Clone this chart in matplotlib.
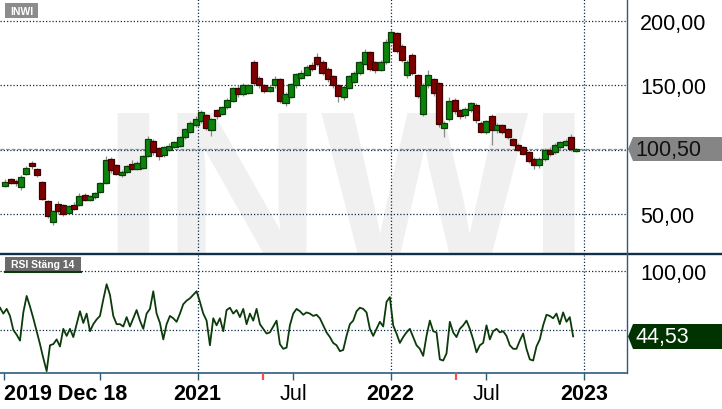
import matplotlib
matplotlib.use("Agg")
import matplotlib.pyplot as plt
import matplotlib.dates as mdates
from matplotlib.patches import Polygon, Rectangle
from matplotlib.lines import Line2D
from matplotlib.transforms import blended_transform_factory
import numpy as np
import pandas as pd

plt.rcParams['font.family'] = ['Liberation Sans', 'DejaVu Sans']

ticker = "INWI"
rsi_title = "RSI Stäng 14"
last_price = 100.50
last_rsi = 44.53

# candles, one every 10 days
candle_start = "2020-01-03"
candle_step_days = 10
opens = [72, 77, 76, 71, 81, 90, 85, 75, 60, 44,
         58, 57, 51, 57, 57, 65, 61, 63, 67, 74,
         93, 88, 80, 83, 89, 85, 86, 95, 107, 101,
         96, 100, 102, 103, 110, 114, 119, 122, 127, 115,
         131, 128, 133, 138, 148, 143, 144, 168, 156, 150,
         146, 150, 155, 136, 141, 150, 156, 158, 166, 172,
         168, 163, 157, 150, 141, 148, 153, 160, 167, 176,
         168, 162, 168, 184, 191, 181, 158, 174, 158, 128,
         150, 155, 152, 117, 124, 139, 131, 127, 131, 135,
         121, 114, 126, 115, 119, 116, 108, 104, 102, 98,
         93, 88, 93, 100, 98, 102, 104, 110, 99]
closes = [75, 74, 74, 79, 86, 87, 80, 62, 48, 52,
          52, 50, 56, 54, 64, 61, 64, 66, 74, 92,
          84, 81, 83, 87, 85, 90, 95, 108, 98, 95,
          102, 103, 106, 110, 116, 121, 124, 129, 117, 124,
          126, 133, 139, 148, 143, 150, 150, 152, 150, 146,
          149, 155, 138, 143, 151, 159, 160, 164, 163, 167,
          160, 155, 150, 142, 149, 157, 160, 168, 176, 163,
          162, 168, 184, 192, 177, 170, 168, 160, 142, 150,
          158, 144, 120, 121, 138, 130, 126, 132, 136, 123,
          114, 122, 115, 119, 114, 110, 104, 100, 97, 91,
          88, 93, 100, 97, 104, 106, 107, 100.5, 100.5]
highs = [77, 78, 77, 80, 87, 91, 86, 76, 61, 53,
         60, 58, 57, 59, 66, 66, 65, 67, 75, 95,
         94, 89, 84, 88, 92, 91, 96, 111, 108, 102,
         103, 105, 107, 111, 117, 122, 126, 131, 128, 125,
         132, 134, 140, 149, 150, 152, 151, 170, 157, 151,
         150, 157, 156, 145, 152, 160, 162, 166, 168, 175,
         170, 164, 158, 151, 150, 158, 161, 169, 178, 177,
         169, 170, 186, 194, 192, 182, 170, 175, 159, 152,
         162, 156, 153, 122, 141, 140, 132, 133, 137, 136,
         122, 123, 128, 121, 120, 117, 109, 105, 103, 99,
         94, 94, 101, 102, 105, 107, 108, 112, 101]
lows = [71, 73, 72, 69, 80, 85, 79, 61, 47, 41,
        50, 48, 50, 53, 56, 60, 60, 62, 66, 73,
        82, 80, 79, 82, 84, 84, 85, 94, 96, 92,
        94, 99, 101, 102, 108, 113, 118, 121, 115, 111,
        124, 127, 132, 137, 141, 142, 143, 150, 148, 144,
        145, 148, 136, 134, 140, 148, 155, 157, 161, 165,
        158, 153, 148, 137, 139, 147, 152, 158, 166, 161,
        160, 161, 167, 183, 175, 168, 156, 158, 140, 126,
        148, 142, 118, 110, 122, 128, 124, 125, 129, 121,
        113, 112, 104, 113, 112, 108, 103, 99, 96, 90,
        85, 86, 91, 95, 97, 100, 103, 99, 98]

# RSI, evenly spaced between these dates
rsi_start = "2019-12-24"
rsi_end = "2022-12-12"
rsi_values = [69, 64, 68, 62, 50, 46, 41, 65, 79, 70,
              60, 49, 38, 26, 15, 37, 38, 42, 36, 51,
              45, 51, 44, 55, 66, 56, 64, 49, 55, 59,
              62, 76, 89, 80, 62, 55, 55, 53, 61, 53,
              60, 67, 58, 51, 64, 68, 83, 64, 56, 42,
              55, 62, 60, 57, 64, 72, 75, 77, 80, 83,
              74, 64, 58, 37, 60, 54, 60, 49, 67, 69,
              64, 67, 61, 68, 55, 64, 58, 68, 55, 51,
              47, 48, 53, 58, 38, 34, 35, 54, 64, 68,
              66, 63, 65, 64, 62, 63, 60, 54, 48, 44,
              39, 37, 32, 33, 45, 55, 58, 66,
              69, 68, 65, 51, 45, 51, 57, 53, 74, 78,
              54, 47, 39, 44, 48, 51, 44, 37, 34, 28,
              45, 58, 49, 48, 25, 24, 30, 57, 48, 44,
              51, 54, 58, 51, 42, 31, 37, 39, 54, 42,
              49, 51, 48, 49, 45, 37, 34, 34, 41, 47,
              34, 25, 24, 36, 42, 54, 63, 62, 60, 64,
              55, 65, 57, 61, 44.53]

dividend_dates = ["2021-05-04", "2022-05-04"]

price_ticks = [50, 100, 150, 200]
rsi_ticks = [50, 100]
year_lines = ["2021-01-01", "2022-01-01", "2023-01-01"]
x_ticks = ["2020-01-01", "2020-07-01", "2021-01-01", "2021-07-01",
           "2022-01-01", "2022-07-01", "2023-01-01"]
x_labels = ["2019 Dec 18", "", "2021", "Jul", "2022", "Jul", "2023"]

W, H = 722, 410
x_left, x_right = "2019-12-24", "2023-03-22"


def fx(px):
    return px / W


def fy(py):
    return 1 - py / H


def dnum(d):
    return mdates.date2num(pd.to_datetime(d))


def fmt(v):
    return f"{v:.2f}".replace('.', ',')


fig = plt.figure(figsize=(W / 100, H / 100), dpi=100)
ax_p = fig.add_axes([0, fy(255), fx(626), fy(0) - fy(255)])
ax_r = fig.add_axes([0, fy(374), fx(626), fy(256) - fy(374)])

grid_col = '#0d2b45'
steel = '#2d5b7b'

for ax in (ax_p, ax_r):
    ax.set_xlim(dnum(x_left), dnum(x_right))
    for s in ax.spines.values():
        s.set_visible(False)
    ax.yaxis.tick_right()
    ax.tick_params(axis='y', length=0, pad=10, labelsize=15.5)
    for d in year_lines:
        ax.axvline(dnum(d), color=grid_col, lw=0.9, dashes=(1, 1.6), zorder=1)

# --- price panel
ax_p.set_ylim(18.8, 217.3)
ax_p.set_yticks(price_ticks)
# the 100,00 label sits under the last-price flag
ax_p.set_yticklabels(['' if abs(v - last_price) < 5 else fmt(v) for v in price_ticks])
ax_p.tick_params(axis='x', length=0, labelbottom=False)
for v in price_ticks:
    ax_p.axhline(v, color=grid_col, lw=0.9, dashes=(1, 1.6), zorder=1)
ax_p.axhline(last_price, color='#8a8a8a', lw=0.9, dashes=(3, 1.5), zorder=1)

wm = ax_p.text(0.163, 11.8, ticker, transform=blended_transform_factory(ax_p.transAxes, ax_p.transData),
               fontsize=158, fontweight='bold', color='#f0f0f0', ha='left', va='baseline', zorder=0)
wm.set_clip_box(ax_p.bbox)

cdates = mdates.date2num(pd.date_range(candle_start, periods=len(opens), freq=f"{candle_step_days}D"))
o = np.array(opens, float)
c = np.array(closes, float)
up = c >= o
ax_p.vlines(cdates, lows, highs, color='#8a8a8a', lw=0.9, zorder=2)
body_h = np.maximum(np.abs(c - o), 0.8)
ax_p.bar(cdates, body_h, width=11.5, bottom=np.minimum(o, c),
         color=np.where(up, '#0a850a', '#800000'),
         edgecolor=np.where(up, '#0b3d0b', '#3d0000'), linewidth=0.9, zorder=3)

# --- RSI panel
ax_r.set_ylim(13.4, 113.9)
ax_r.set_yticks(rsi_ticks)
ax_r.set_yticklabels([fmt(v) for v in rsi_ticks])
for v in rsi_ticks:
    ax_r.axhline(v, color=grid_col, lw=0.9, dashes=(1, 1.6), zorder=1)
rdates = np.linspace(dnum(rsi_start), dnum(rsi_end), len(rsi_values))
ax_r.plot(rdates, rsi_values, color='#0b3b0b', lw=1.3, zorder=3)

ax_r.spines['bottom'].set_visible(True)
ax_r.spines['bottom'].set_color(steel)
ax_r.spines['bottom'].set_linewidth(1.2)
ax_r.set_xticks([dnum(d) for d in x_ticks])
ax_r.set_xticklabels(x_labels)
ax_r.tick_params(axis='x', length=5, width=1, color=steel, pad=2, labelsize=15.5)
for lab in ax_r.get_xticklabels():
    lab.set_fontweight('normal' if lab.get_text() == 'Jul' else 'bold')
ax_r.get_xticklabels()[0].set_ha('left')
bt = blended_transform_factory(ax_r.transData, ax_r.transAxes)
ax_r.vlines([dnum(d) for d in dividend_dates], -0.06, 0, transform=bt,
            color='#ff4a4a', lw=1.6, clip_on=False, zorder=5)

# --- frame lines
fig.add_artist(Line2D([0, 1], [fy(254.6), fy(254.6)], transform=fig.transFigure, color='#10304a', lw=1.7))
fig.add_artist(Line2D([fx(626.5), fx(626.5)], [fy(0), fy(374)], transform=fig.transFigure, color=steel, lw=1))

# --- title boxes
fig.add_artist(Rectangle((fx(5), fy(19)), fx(33), fy(4) - fy(19), transform=fig.transFigure,
                         facecolor='#8c8c8c', edgecolor='none'))
fig.text(fx(21.5), fy(11.8), ticker, color='white', fontsize=7.5, fontweight='bold', ha='center', va='center')
fig.add_artist(Rectangle((fx(5), fy(272)), fx(76), fy(258) - fy(272), transform=fig.transFigure,
                         facecolor='#6b6b6b', edgecolor='none'))
fig.add_artist(Line2D([fx(5), fx(81)], [fy(272.5), fy(272.5)], transform=fig.transFigure, color='#0b3b0b', lw=1.5))
fig.text(fx(43), fy(265), rsi_title, color='white', fontsize=7.5, fontweight='bold', ha='center', va='center')


# --- last value flags
def flag(yc, half, color, text, tcolor):
    pts = [(fx(628), fy(yc)), (fx(633), fy(yc - half)), (fx(722), fy(yc - half)),
           (fx(722), fy(yc + half)), (fx(633), fy(yc + half))]
    fig.add_artist(Polygon(pts, closed=True, transform=fig.transFigure, facecolor=color, edgecolor='none'))
    fig.text(fx(635), fy(yc + 0.5), text, color=tcolor, fontsize=15.5, ha='left', va='center')


flag(150, 12, '#858585', fmt(last_price), '#111111')
flag(337.5, 12.5, '#003300', fmt(last_rsi), 'white')

fig.savefig("out.png", dpi=100)
